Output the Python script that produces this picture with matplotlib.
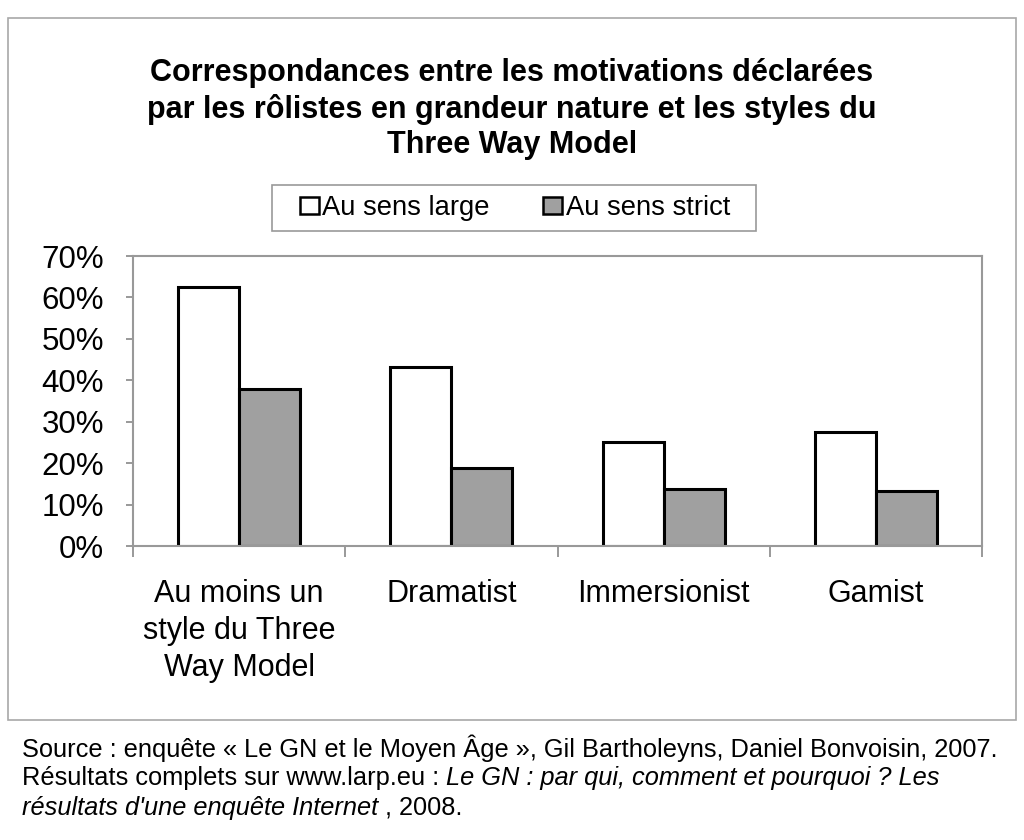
import matplotlib.pyplot as plt
import numpy as np
from matplotlib.patches import Rectangle, Patch
from matplotlib.ticker import FuncFormatter

plt.rcParams["font.family"] = ["Liberation Sans", "DejaVu Sans"]

# data (percent)
categories = ["Au moins un\nstyle du Three\nWay Model", "Dramatist", "Immersionist", "Gamist"]
sens_large = [62.4, 43.2, 25.0, 27.4]
sens_strict = [38.0, 18.9, 13.8, 13.3]
series_names = ["Au sens large", "Au sens strict"]
title = ("Correspondances entre les motivations déclarées\n"
         "par les rôlistes en grandeur nature et les styles du\n"
         "Three Way Model")

fig = plt.figure(figsize=(10.24, 8.4), dpi=100)
fig.patch.set_facecolor("white")

# outer grey frame around the chart area
fig.patches.append(Rectangle((8 / 1024, 1 - 720 / 840), 1008 / 1024, 702 / 840,
                             transform=fig.transFigure, fill=False,
                             edgecolor="#a8a8a8", linewidth=1.2))
# legend frame (drawn apart, the box is wider than the legend padding allows)
fig.patches.append(Rectangle((272 / 1024, 1 - 231 / 840), 484 / 1024, 46 / 840,
                             transform=fig.transFigure, fill=False,
                             edgecolor="#999999", linewidth=1.2))

ax = fig.add_axes([133 / 1024, 1 - 546 / 840, 849 / 1024, 290 / 840])

x = np.arange(len(categories))
w = 0.287
ax.bar(x - w / 2, sens_large, w, color="white", edgecolor="black", linewidth=2.2)
ax.bar(x + w / 2, sens_strict, w, color="#a0a0a0", edgecolor="black", linewidth=2.2)

ax.set_xlim(-0.5, len(categories) - 0.5)
ax.set_ylim(0, 70)
ax.set_yticks(range(0, 71, 10))
ax.yaxis.set_major_formatter(FuncFormatter(lambda v, p: f"{int(v)}%"))
ax.tick_params(axis="y", labelsize=22.5, length=5, color="#888888", width=1.2, pad=16)

# x ticks at category boundaries, labels in between
ax.set_xticks(np.arange(-0.5, len(categories), 1.0))
ax.set_xticklabels([])
ax.set_xticks(x, minor=True)
ax.set_xticklabels(categories, minor=True, fontsize=22, linespacing=1.3)
ax.tick_params(axis="x", which="major", length=8, color="#888888", width=1.2)
ax.tick_params(axis="x", which="minor", length=0, pad=24)

for s in ax.spines.values():
    s.set_color("#999999")
    s.set_linewidth(1.5)

fig.text(0.5, 1 - 109 / 840, title, ha="center", va="center",
         fontsize=22, fontweight="bold", linespacing=1.22)

handles = [Patch(facecolor="white", edgecolor="black", linewidth=1.8),
           Patch(facecolor="#a0a0a0", edgecolor="black", linewidth=1.8)]
leg = fig.legend(handles, series_names, loc="center",
                 bbox_to_anchor=(515 / 1024, 1 - 208 / 840), ncol=2, fontsize=19.7,
                 frameon=False, handlelength=0.7, handleheight=0.62,
                 handletextpad=0.12, columnspacing=1.95, borderpad=0.2)

# source lines under the frame, partly italic
fs = 18.3
t1 = fig.text(22 / 1024, 1 - 748 / 840,
              "Source : enquête « Le GN et le Moyen Âge », Gil Bartholeyns, Daniel Bonvoisin, 2007.",
              fontsize=fs, va="center")
t2 = fig.text(22 / 1024, 1 - 778 / 840, "Résultats complets sur www.larp.eu : ",
              fontsize=fs, va="center")
ax.annotate("Le GN : par qui, comment et pourquoi ? Les", xy=(1, 0), xycoords=t2,
            va="bottom", ha="left", fontsize=fs, style="italic", annotation_clip=False)
t3 = fig.text(22 / 1024, 1 - 808 / 840, "résultats d'une enquête Internet",
              fontsize=fs, va="center", style="italic")
ax.annotate(" , 2008.", xy=(1, 0), xycoords=t3, va="bottom", ha="left", fontsize=fs,
            annotation_clip=False)

fig.savefig("out.png", dpi=100)
